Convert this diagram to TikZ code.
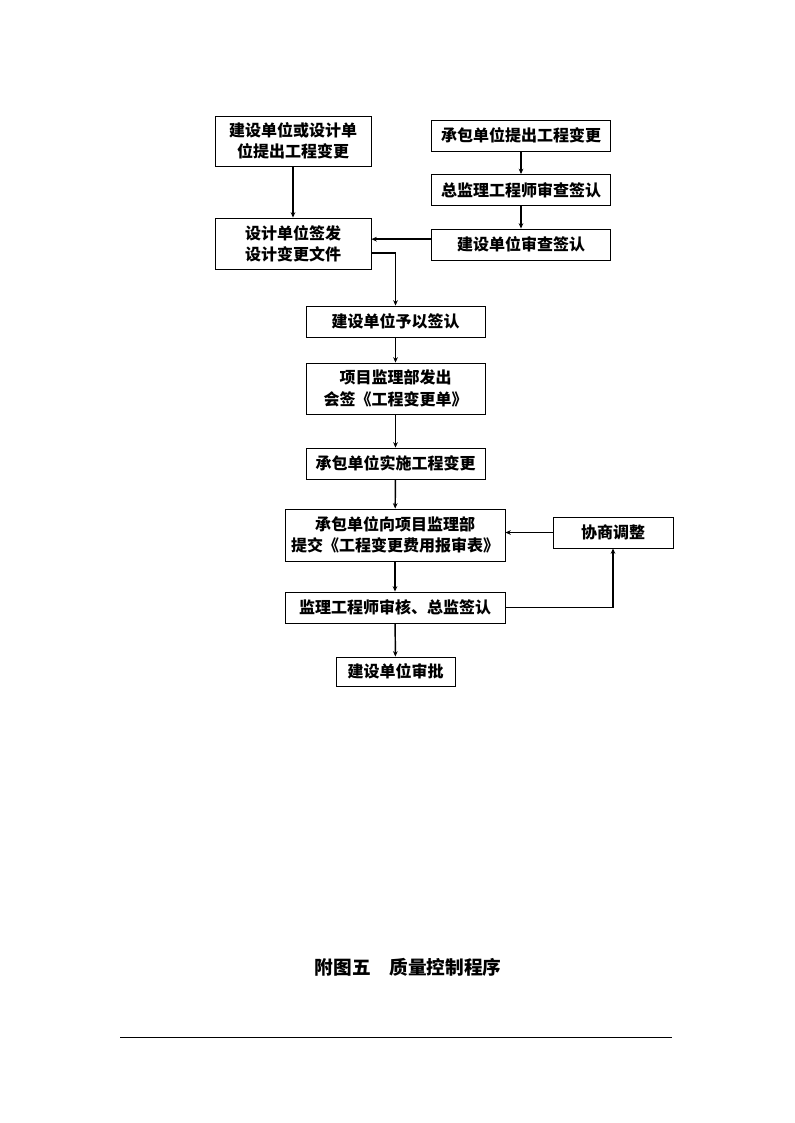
\documentclass[tikz,border=0pt]{standalone}
\usepackage{fontspec}
\newfontfamily\cjk{Noto Sans CJK SC}
\usetikzlibrary{arrows.meta}

\begin{document}
\begin{tikzpicture}[x=0.75pt, y=-0.75pt,
    box/.style={draw, line width=.7pt, align=center, inner sep=0pt,
      font=\cjk\bfseries\fontsize{12}{16}\selectfont},
    link/.style={line width=1.1pt, -{Stealth[length=4pt,width=3.5pt]}}]
  \useasboundingbox (0,0) rectangle (794,1123);

  % left column and right column on top
  \node[box, minimum width=117pt, minimum height=37.5pt] (propose) at (293,141) {建设单位或设计单\\位提出工程变更};
  \node[box, minimum width=134.25pt, minimum height=23.25pt] (contractor) at (521,135.5) {承包单位提出工程变更};
  \node[box, minimum width=134.25pt, minimum height=23.25pt] (chiefcheck) at (521,190) {总监理工程师审查签认};
  \node[box, minimum width=134.25pt, minimum height=23.25pt] (ownercheck) at (521,244.5) {建设单位审查签认};
  \node[box, minimum width=117pt, minimum height=38.25pt] (designdoc) at (293,243.5) {设计单位签发\\设计变更文件};

  % main column
  \node[box, minimum width=134.25pt, minimum height=23.25pt] (ownersign) at (395.5,321.5) {建设单位予以签认};
  \node[box, minimum width=134.25pt, minimum height=38.25pt] (countersign) at (395.5,388.5) {项目监理部发出\\会签《工程变更单》};
  \node[box, minimum width=134.25pt, minimum height=23.25pt] (implement) at (395.5,463.5) {承包单位实施工程变更};
  \node[box, minimum width=165pt, minimum height=39pt] (costform) at (395,535) {承包单位向项目监理部\\提交《工程变更费用报审表》};
  \node[box, minimum width=90pt, minimum height=23.25pt] (adjust) at (613,532.5) {协商调整};
  \node[box, minimum width=165pt, minimum height=23.25pt] (review) at (395,607.5) {监理工程师审核、总监签认};
  \node[box, minimum width=89.25pt, minimum height=21.75pt] (approve) at (395.5,671.5) {建设单位审批};

  \draw[link] (propose) -- (designdoc);
  \draw[link] (contractor) -- (chiefcheck);
  \draw[link] (chiefcheck) -- (ownercheck);
  \draw[link] ([yshift=4pt]ownercheck.west) -- ([yshift=4pt]ownercheck.west -| designdoc.east);
  \draw[link] ([yshift=-7pt]designdoc.east) -| (ownersign.north);
  \draw[link] (ownersign) -- (countersign);
  \draw[link] (countersign) -- (implement);
  \draw[link] (implement) -- (costform);
  \draw[link] (costform) -- (review);
  \draw[link] (review) -- (approve);
  \draw[link] (adjust.west) -- (adjust.west -| costform.east);
  \draw[link] (review.east) -| (adjust.south);

  % caption and rule
  \node[font=\cjk\bfseries\fontsize{14}{16}\selectfont] (caption) at (408,967) {附图五\quad 质量控制程序};
  \draw[line width=.75pt] (120,1037) -- (672,1037);
\end{tikzpicture}
\end{document}
